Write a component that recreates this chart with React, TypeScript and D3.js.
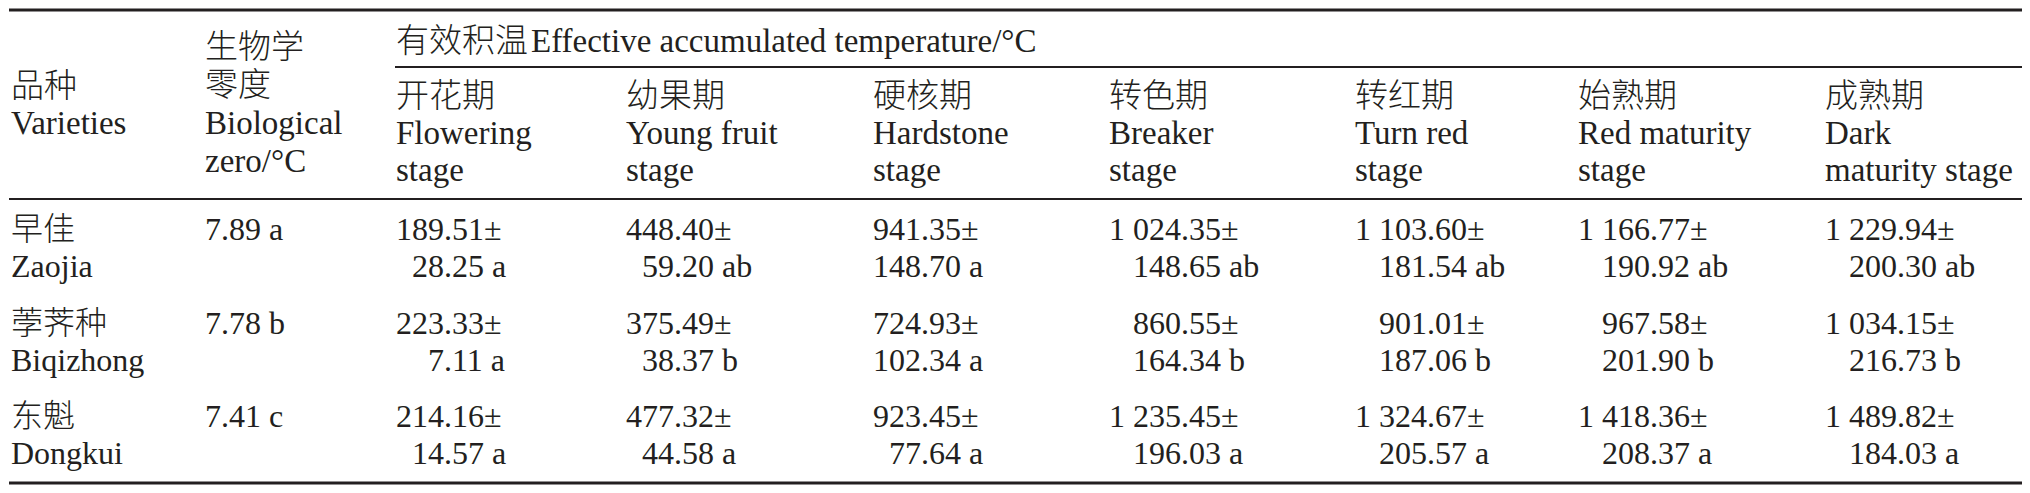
import React from "react";
import * as d3 from "d3";

// ---------- data ----------
const varietiesCn = ["早佳", "荸荠种", "东魁"];
const varietiesEn = ["Zaojia", "Biqizhong", "Dongkui"];
const biologicalZero = ["7.89 a", "7.78 b", "7.41 c"];

const stagesCn = ["开花期", "幼果期", "硬核期", "转色期", "转红期", "始熟期", "成熟期"];
const stagesEn1 = ["Flowering", "Young fruit", "Hardstone", "Breaker", "Turn red", "Red maturity", "Dark"];
const stagesEn2 = ["stage", "stage", "stage", "stage", "stage", "stage", "maturity stage"];

const zaojiaMean = [189.51, 448.4, 941.35, 1024.35, 1103.6, 1166.77, 1229.94];
const zaojiaSd = [28.25, 59.2, 148.7, 148.65, 181.54, 190.92, 200.3];
const zaojiaLetter = ["a", "ab", "a", "ab", "ab", "ab", "ab"];

const biqizhongMean = [223.33, 375.49, 724.93, 860.55, 901.01, 967.58, 1034.15];
const biqizhongSd = [7.11, 38.37, 102.34, 164.34, 187.06, 201.9, 216.73];
const biqizhongLetter = ["a", "b", "a", "b", "b", "b", "b"];

const dongkuiMean = [214.16, 477.32, 923.45, 1235.45, 1324.67, 1418.36, 1489.82];
const dongkuiSd = [14.57, 44.58, 77.64, 196.03, 205.57, 208.37, 184.03];
const dongkuiLetter = ["a", "a", "a", "a", "a", "a", "a"];

const means = [zaojiaMean, biqizhongMean, dongkuiMean];
const sds = [zaojiaSd, biqizhongSd, dongkuiSd];
const letters = [zaojiaLetter, biqizhongLetter, dongkuiLetter];

// ---------- layout ----------
const W = 2030;
const H = 493;
const FS = 32;
const HFS = 33;
const LINE = 37;
const INK = "#231f20";
const FONT = "'Liberation Serif', 'Times New Roman', 'Noto Sans CJK SC', serif";

const fmt = d3
  .formatLocale({ decimal: ".", thousands: " ", grouping: [3], currency: ["", ""] })
  .format(",.2f");

const colX = d3.scaleOrdinal<string, number>().domain(stagesCn).range([396, 626, 873, 1109, 1355, 1578, 1825]);
const rowY = d3.scalePoint<string>().domain(varietiesEn).range([240, 427]);

let ctx: CanvasRenderingContext2D | null = null;
function measure(s: string, size = FS): number {
  if (!ctx) ctx = document.createElement("canvas").getContext("2d");
  if (!ctx) return s.length * size * 0.5;
  ctx.font = `${size}px 'Liberation Serif'`;
  return ctx.measureText(s).width;
}

const T = (p: any) => (
  <text fill={INK} fontFamily={FONT} fontSize={p.size ?? FS} fontWeight={300} {...p} />
);

export default function App() {
  const cells: React.ReactNode[] = [];
  stagesCn.forEach((st, j) => {
    const left = colX(st);
    const ints: string[] = [];
    varietiesEn.forEach((_, i) => {
      ints.push(fmt(means[i][j]).split(".")[0]);
      ints.push(fmt(sds[i][j]).split(".")[0]);
    });
    const maxInt = d3.max(ints, (s) => measure(s)) ?? 0;
    const dec = left + maxInt;
    varietiesEn.forEach((v, i) => {
      const y = rowY(v)!;
      const m = fmt(means[i][j]).split(".");
      const s = fmt(sds[i][j]).split(".");
      cells.push(
        <T key={`m${i}${j}`} x={dec - measure(m[0])} y={y}>
          {`${m[0]}.${m[1]}±`}
        </T>
      );
      cells.push(
        <T key={`s${i}${j}`} x={dec - measure(s[0])} y={y + LINE}>
          {`${s[0]}.${s[1]} ${letters[i][j]}`}
        </T>
      );
    });
  });

  return (
    <svg
      width={W}
      height={H}
      style={{ position: "absolute", left: 0, top: 0, background: "#fff" }}
    >
      <rect width={W} height={H} fill="#fff" />
      {/* rules */}
      <line x1={9} x2={2022} y1={10} y2={10} stroke={INK} strokeWidth={2.8} />
      <line x1={395} x2={2022} y1={67} y2={67} stroke={INK} strokeWidth={1.8} />
      <line x1={9} x2={2022} y1={199} y2={199} stroke={INK} strokeWidth={1.8} />
      <line x1={9} x2={2022} y1={483} y2={483} stroke={INK} strokeWidth={2.8} />

      {/* header: varieties */}
      <T x={11} y={97} size={HFS}>品种</T>
      <T x={11} y={134} size={HFS}>Varieties</T>

      {/* header: biological zero */}
      <T x={205} y={58} size={HFS}>生物学</T>
      <T x={205} y={96} size={HFS}>零度</T>
      <T x={205} y={134} size={HFS}>Biological</T>
      <T x={205} y={172} size={HFS}>zero/°C</T>

      {/* group header */}
      <T x={396} y={52} size={HFS}>
        有效积温<tspan dx={3}>Effective accumulated temperature/°C</tspan>
      </T>

      {/* stage headers */}
      {stagesCn.map((st, j) => (
        <g key={st}>
          <T x={colX(st)} y={107} size={HFS}>{st}</T>
          <T x={colX(st)} y={144} size={HFS}>{stagesEn1[j]}</T>
          <T x={colX(st)} y={181} size={HFS}>{stagesEn2[j]}</T>
        </g>
      ))}

      {/* body: variety names and biological zero */}
      {varietiesEn.map((v, i) => (
        <g key={v}>
          <T x={11} y={rowY(v)!}>{varietiesCn[i]}</T>
          <T x={11} y={rowY(v)! + LINE}>{v}</T>
          <T x={205} y={rowY(v)!}>{biologicalZero[i]}</T>
        </g>
      ))}

      {cells}
    </svg>
  );
}
